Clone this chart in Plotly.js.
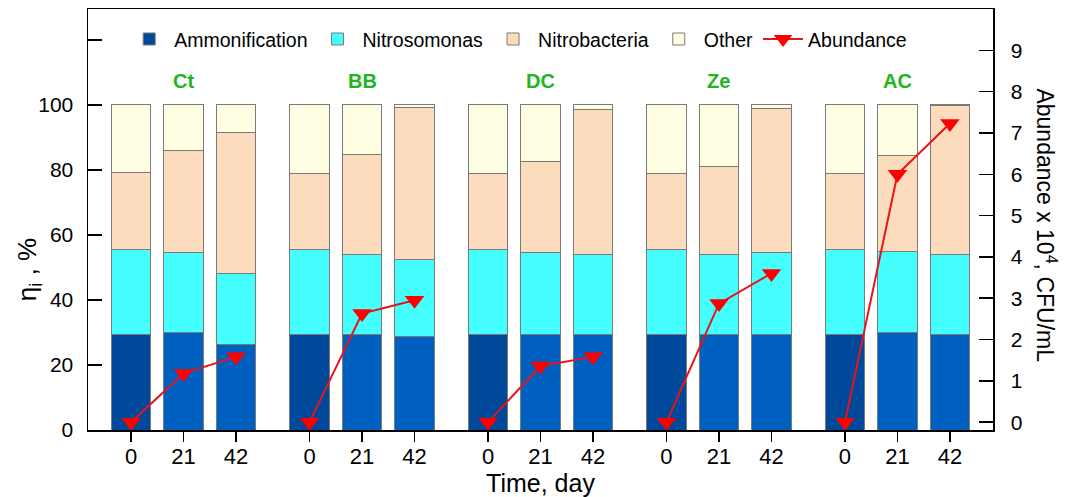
<!DOCTYPE html>
<html>
<head>
<meta charset="utf-8">
<script src="https://cdn.plot.ly/plotly-3.0.1.min.js"></script>
<style>html,body{margin:0;padding:0;background:#fff;}#chart{width:1067px;height:497px;}</style>
</head>
<body>
<div id="chart"></div>
<script>
// ---- data ----
const groups = ["Ct", "BB", "DC", "Ze", "AC"];
const days = ["0", "21", "42"];
const ammonification = [29.4, 30.1, 26.2, 29.4, 29.4, 28.7, 29.4, 29.4, 29.4, 29.4, 29.4, 29.4, 29.4, 30.1, 29.4];
const nitrosomonas   = [26.2, 24.5, 22.0, 26.2, 24.7, 23.9, 26.2, 25.1, 24.5, 26.2, 24.5, 25.1, 26.2, 24.9, 24.5];
const nitrobacteria  = [23.5, 31.5, 43.4, 23.4, 30.7, 46.7, 23.4, 28.2, 44.6, 23.4, 27.3, 44.4, 23.4, 29.4, 45.8];
const other          = [20.9, 13.9, 8.4, 21.0, 15.2, 0.7, 21.0, 17.3, 1.5, 21.0, 18.8, 1.1, 21.0, 15.6, 0.3];
const abundance      = [0, 1.18, 1.58, 0, 2.63, 2.95, 0, 1.36, 1.58, 0, 2.87, 3.6, 0, 6.0, 7.23];
const leftTicks = [0, 20, 40, 60, 80, 100, 120];
const leftTickText = ["0", "20", "40", "60", "80", "100", ""];
const rightTicks = [0, 1, 2, 3, 4, 5, 6, 7, 8, 9];

// ---- layout helpers ----
const groupStep = 3.4;
const xs = [];
const tickText = [];
groups.forEach((g, gi) => days.forEach((d, di) => { xs.push(gi * groupStep + di); tickText.push(d); }));

const ammonColors = xs.map((_, i) => (i % 3 === 0) ? "#00489a" : "#0060c0");
const outline = {color: "#7a7a7a", width: 1};
const barW = 0.76;

function barTrace(name, vals, color) {
  return {type: "bar", name: name, x: xs, y: vals, width: barW,
    marker: {color: color, line: outline}, hoverinfo: "skip"};
}

// abundance line: separate segments per group (null gaps)
const ax = [], ay = [];
groups.forEach((g, gi) => {
  for (let di = 0; di < 3; di++) { ax.push(xs[gi * 3 + di]); ay.push(abundance[gi * 3 + di]); }
  if (gi < groups.length - 1) { ax.push(null); ay.push(null); }
});

const traces = [
  barTrace("Ammonification", ammonification, ammonColors),
  barTrace("Nitrosomonas", nitrosomonas, "#45ffff"),
  barTrace("Nitrobacteria", nitrobacteria, "#fddcbd"),
  barTrace("Other", other, "#fffde2"),
  {type: "scatter", mode: "lines+markers", name: "Abundance", x: ax, y: ay, yaxis: "y2",
   connectgaps: false, line: {color: "#e8141c", width: 2},
   marker: {symbol: "triangle-down", size: 17, color: "#ff0000"}, hoverinfo: "skip"}
];

const groupAnn = groups.map((g, gi) => ({
  x: gi * groupStep + 1, y: 107.5, xref: "x", yref: "y", text: "<b>" + g + "</b>",
  showarrow: false, font: {family: "Liberation Sans, Arial, sans-serif", size: 20, color: "#22b422"}
}));

const layout = {
  width: 1067, height: 497,
  margin: {l: 88, r: 74, t: 9, b: 67},
  paper_bgcolor: "#ffffff", plot_bgcolor: "#ffffff",
  barmode: "stack", bargap: 0,
  font: {family: "Liberation Sans, Arial, sans-serif", color: "#000", size: 20},
  showlegend: true,
  legend: {orientation: "h", x: 0.04, y: 0.928, xanchor: "left", yanchor: "middle",
    traceorder: "normal", font: {size: 19.5}, bgcolor: "rgba(0,0,0,0)", itemwidth: 40},
  xaxis: {range: [-0.82, 16.42], tickmode: "array", tickvals: xs, ticktext: tickText,
    ticks: "outside", ticklen: 10, tickwidth: 1.5, tickcolor: "#000", ticklabelstandoff: -4,
    showline: true, linecolor: "#000", linewidth: 1.5, mirror: true,
    showgrid: false, zeroline: false, tickfont: {size: 22},
    title: {text: "Time, day", font: {size: 25}, standoff: 4}},
  yaxis: {range: [0, 129.5], tickmode: "array", tickvals: leftTicks, ticktext: leftTickText,
    ticks: "inside", ticklen: 14, tickwidth: 1.5, tickcolor: "#000", ticklabelstandoff: 9,
    showline: true, linecolor: "#000", linewidth: 1.5,
    showgrid: false, zeroline: false, tickfont: {size: 21}},
  yaxis2: {overlaying: "y", side: "right", range: [-0.19, 10.0], tickmode: "array", tickvals: rightTicks,
    ticks: "inside", ticklen: 14, tickwidth: 1.5, tickcolor: "#000", ticklabelstandoff: 12,
    showline: true, linecolor: "#000", linewidth: 1.5,
    showgrid: false, zeroline: false, tickfont: {size: 21}},
  annotations: groupAnn.concat([
    {xref: "paper", yref: "paper", x: -0.066, y: 0.38, text: "η<sub>i</sub> , %", textangle: -90,
     showarrow: false, xanchor: "center", yanchor: "middle", font: {size: 26}},
    {xref: "paper", yref: "paper", x: 1.059, y: 0.485, text: "Abundance x 10<sup>4</sup>, CFU/mL", textangle: 90,
     showarrow: false, xanchor: "center", yanchor: "middle", font: {size: 23}}
  ])
};

Plotly.newPlot("chart", traces, layout, {staticPlot: true, displayModeBar: false});
</script>
</body>
</html>
